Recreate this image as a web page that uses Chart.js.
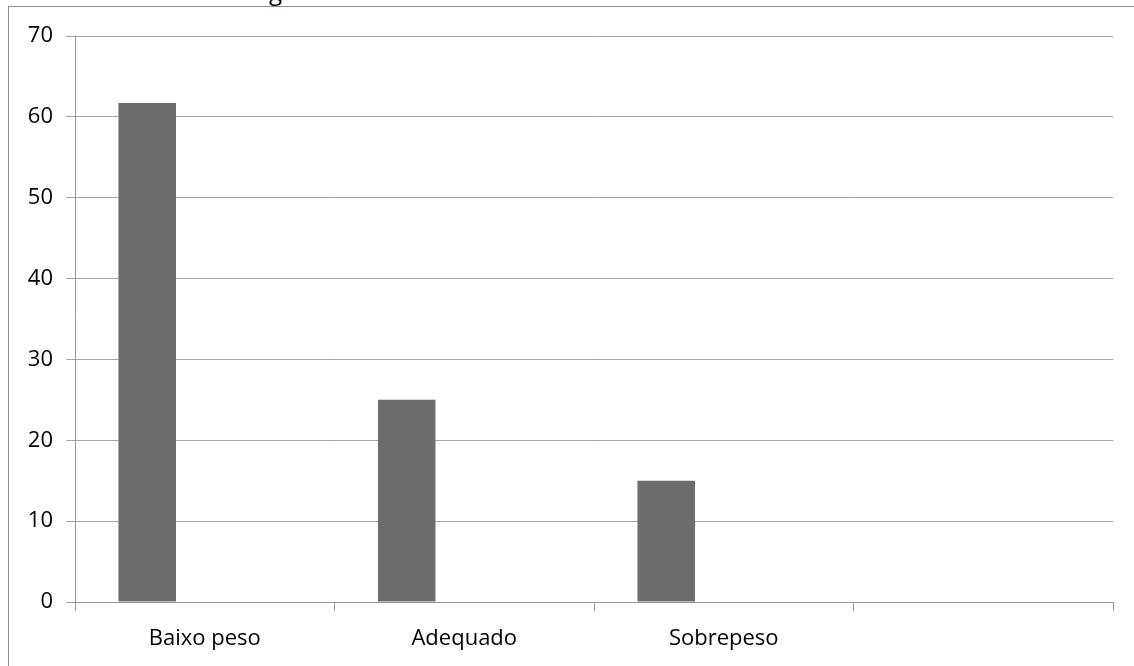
<!DOCTYPE html>
<html>
<head>
<meta charset="utf-8">
<script src="https://cdn.jsdelivr.net/npm/chart.js@4"></script>
<style>
  html, body { margin: 0; padding: 0; background: #fff; overflow: hidden; }
  #wrap { position: relative; width: 1134px; height: 666px; }
  #frame { position: absolute; left: 8px; top: 6px; width: 1200px; height: 700px;
           border-left: 1px solid #8c8c8c; border-top: 1px solid #8c8c8c; }
  #cut { position: absolute; left: 269px; top: -26px; font: 24px "Open Sans", sans-serif; color: #000; }
  canvas { position: absolute; left: 0; top: 0; }
</style>
</head>
<body>
<div id="wrap">
  <div id="cut">g</div>
  <div id="frame"></div>
  <canvas id="chart" width="1134" height="666"></canvas>
</div>
<script>
// categorias (a última fica vazia no original)
const categorias = ["Baixo peso", "Adequado", "Sobrepeso", ""];
const serie1 = [61.7, 25, 15, null];
const serie2 = [null, null, null, null];
const serie3 = [null, null, null, null];
const yTicks = [0, 10, 20, 30, 40, 50, 60, 70];

const chartdiv = document.getElementById("chart");
new Chart(chartdiv, {
    type: 'bar',
    data: {
        labels: categorias,
        datasets: [
            { label: "Série1", data: serie1, backgroundColor: "#6d6d6d" },
            { label: "Série2", data: serie2, backgroundColor: "#6d6d6d" },
            { label: "Série3", data: serie3, backgroundColor: "#6d6d6d" }
        ]
    },
    options: {
        responsive: false,
        animation: false,
        layout: { padding: { left: 0, right: 21, top: 36, bottom: 0 } },
        plugins: { legend: { display: false }, tooltip: { enabled: false } },
        datasets: { bar: { categoryPercentage: 0.665, barPercentage: 1 } },
        scales: {
            x: {
                offset: true,
                grid: { display: true, drawOnChartArea: false, offset: true, color: "#9a9a9a", tickLength: 9, lineWidth: 1 },
                border: { color: "#9a9a9a", width: 1 },
                ticks: { color: "#000", font: { family: "Open Sans", size: 22 }, padding: 15, maxRotation: 0 },
                afterFit: s => { s.height = 64; }
            },
            y: {
                min: 0, max: 70,
                afterBuildTicks: s => { s.ticks = yTicks.map(v => ({ value: v })); },
                grid: { color: "#a6a6a6", tickLength: 9, lineWidth: 1 },
                border: { color: "#9a9a9a", width: 1 },
                ticks: { color: "#000", font: { family: "Open Sans", size: 22 }, padding: 13 },
                afterFit: s => { s.width = 75; }
            }
        }
    }
});
</script>
</body>
</html>
